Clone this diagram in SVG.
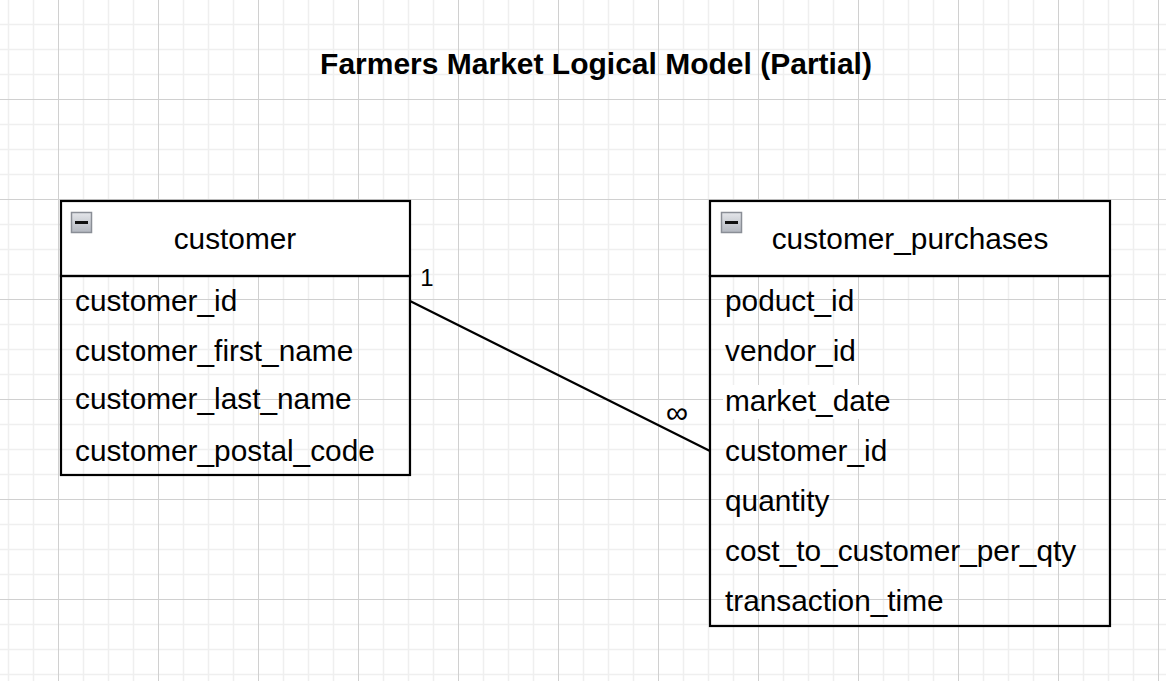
<svg xmlns="http://www.w3.org/2000/svg" width="1166" height="681" viewBox="0 0 1166 681">
<style>
.t{font-family:"Liberation Sans",Arial,sans-serif;font-size:29.8px;fill:#000}
.title{font-family:"Liberation Sans",Arial,sans-serif;font-size:30px;font-weight:bold;fill:#000}
.box{fill:none;stroke:#000;stroke-width:2.2}
.hdr{fill:#fff;stroke:#000;stroke-width:2.2}
.lbl{font-family:"Liberation Sans",Arial,sans-serif;font-size:24px;fill:#000}
.inf{font-size:31px}
</style>
<defs>
<pattern id="grid" x="58" y="99" width="100" height="100" patternUnits="userSpaceOnUse">
<path d="M25.5 0V100M50.5 0V100M75.5 0V100M0 25.5H100M0 50.5H100M0 75.5H100" stroke="#efefef" stroke-width="1.5" fill="none"/>
<path d="M0.5 0V100M0 0.5H100" stroke="#d0d0d0" stroke-width="1" fill="none"/>
</pattern>
<linearGradient id="ig" x1="0" y1="0" x2="0" y2="1">
<stop offset="0" stop-color="#e4e6ea"/>
<stop offset="1" stop-color="#b4b8c0"/>
</linearGradient>
<g id="minus">
<rect x="0.5" y="0.5" width="20" height="20" fill="url(#ig)" stroke="#8a8e96" stroke-width="1.5"/>
<rect x="4" y="9" width="13" height="3" fill="#111"/>
</g>
</defs>
<rect width="1166" height="681" fill="#fff"/>
<rect width="1166" height="681" fill="url(#grid)"/>
<text class="title" x="596" y="74" text-anchor="middle">Farmers Market Logical Model (Partial)</text>
<g id="connectors">
<line x1="410" y1="301" x2="710" y2="451" stroke="#000" stroke-width="2.2"/>
<text class="lbl" x="427" y="286" text-anchor="middle">1</text>
<text class="lbl inf" x="677" y="423" text-anchor="middle">∞</text>
</g>
<g id="customer">
<rect class="hdr" x="61" y="201" width="349" height="75"/>
<rect class="box" x="61" y="276" width="349" height="199"/>
<use href="#minus" x="71" y="212"/>
<text class="t" x="235" y="249" text-anchor="middle">customer</text>
<text class="t" x="75" y="311">customer_id</text>
<text class="t" x="75" y="361">customer_first_name</text>
<text class="t" x="75" y="409">customer_last_name</text>
<text class="t" x="75" y="461">customer_postal_code</text>
</g>
<g id="customer_purchases">
<rect class="hdr" x="710" y="201" width="400" height="75"/>
<rect class="box" x="710" y="276" width="400" height="350"/>
<use href="#minus" x="721" y="212"/>
<text class="t" x="910" y="249" text-anchor="middle">customer_purchases</text>
<text class="t" x="725" y="311">poduct_id</text>
<text class="t" x="725" y="361">vendor_id</text>
<rect x="723" y="385" width="155" height="34" fill="#fff"/>
<text class="t" x="725" y="411">market_date</text>
<text class="t" x="725" y="461">customer_id</text>
<text class="t" x="725" y="511">quantity</text>
<text class="t" x="725" y="561">cost_to_customer_per_qty</text>
<text class="t" x="725" y="611">transaction_time</text>
</g>
</svg>
